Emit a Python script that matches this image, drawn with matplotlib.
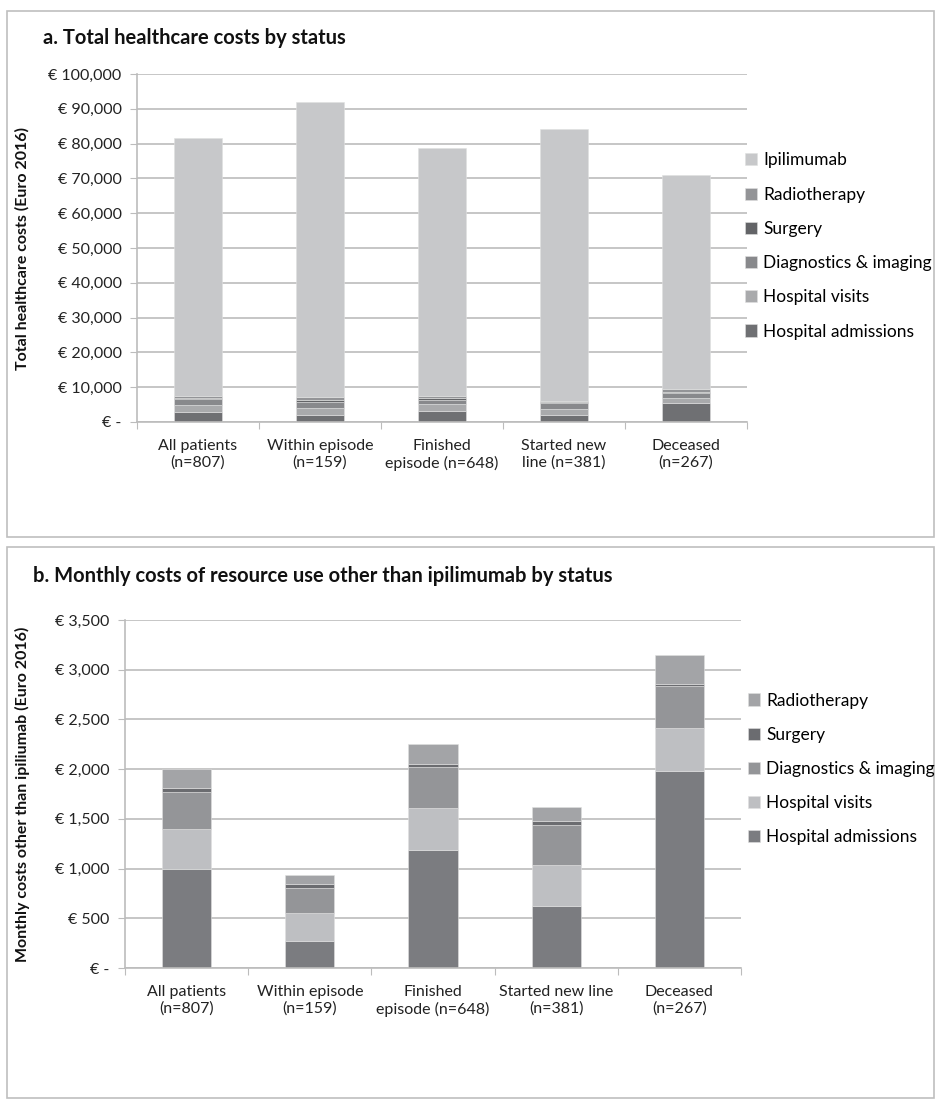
import numpy as np
import matplotlib
matplotlib.use("Agg")
import matplotlib.pyplot as plt
from matplotlib.patches import Rectangle

plt.rcParams['font.family'] = ['Lato', 'DejaVu Sans']

# panel a: total costs per patient (euro 2016)
cats_a = ["All patients\n(n=807)", "Within episode\n(n=159)", "Finished\nepisode (n=648)",
          "Started new\nline (n=381)", "Deceased\n(n=267)"]
adm_a = [3000, 1960, 3230, 2150, 5330]
visits_a = [1950, 2060, 1960, 1680, 1680]
diag_a = [1600, 1870, 1180, 1590, 1310]
surg_a = [280, 470, 390, 280, 280]
radio_a = [750, 930, 780, 380, 840]
ipi_a = [74100, 84700, 71260, 78220, 61560]

# panel b: monthly costs other than ipilimumab
cats_b = ["All patients\n(n=807)", "Within episode\n(n=159)", "Finished\nepisode (n=648)",
          "Started new line\n(n=381)", "Deceased\n(n=267)"]
adm_b = [1000, 268, 1184, 621, 1978]
visits_b = [403, 282, 426, 419, 436]
diag_b = [369, 252, 410, 396, 419]
surg_b = [40, 44, 30, 40, 27]
radio_b = [185, 90, 205, 144, 290]

yticks_a = list(range(0, 100001, 10000))
yticks_b = list(range(0, 3501, 500))

W, H = 936, 1100
fig = plt.figure(figsize=(W / 100, H / 100), dpi=100)

# outer frames like the excel chart boxes
for (x0, y0, x1, y1) in [(7, 11, 934, 537), (7, 547, 934, 1098)]:
    fig.patches.append(Rectangle((x0 / W, 1 - y1 / H), (x1 - x0) / W, (y1 - y0) / H,
                                 transform=fig.transFigure, fill=False,
                                 edgecolor='#bfbfbf', linewidth=1.2))


def euro(v):
    if v == 0:
        return "€ -"
    return "€ {:,}".format(v)


def style_axes(ax, n, yticks):
    ax.set_xlim(-0.5, n - 0.5)
    ax.set_ylim(0, yticks[-1])
    ax.set_yticks(yticks)
    ax.set_yticklabels([euro(v) for v in yticks], fontsize=11.5, color='#222222')
    ax.yaxis.grid(True, color='#bcbcbc', linewidth=1.2)
    ax.set_axisbelow(True)
    for s in ['top', 'right']:
        ax.spines[s].set_visible(False)
    ax.spines['left'].set_color('#bcbcbc')
    ax.spines['bottom'].set_color('#bcbcbc')
    ax.spines['left'].set_linewidth(1.2)
    ax.spines['bottom'].set_linewidth(1.2)
    ax.tick_params(axis='y', length=5, color='#bcbcbc', pad=6)
    # category ticks sit between the bars
    ax.set_xticks(np.arange(-0.5, n, 1.0))
    ax.set_xticklabels([])
    ax.set_xticks(np.arange(n), minor=True)
    ax.tick_params(axis='x', which='major', length=5, color='#bcbcbc')
    ax.tick_params(axis='x', which='minor', length=0, pad=12)


def stack(ax, series, colors, labels, cats):
    x = np.arange(len(cats))
    bottom = np.zeros(len(cats))
    handles = []
    for vals, c, lab in zip(series, colors, labels):
        b = ax.bar(x, vals, width=0.4, bottom=bottom, color=c, label=lab,
                   edgecolor='#e0e0e0', linewidth=0.4)
        handles.append(b)
        bottom = bottom + np.array(vals)
    ax.set_xticklabels(cats, minor=True, fontsize=11.5, color='#222222', linespacing=1.25)
    return handles


leg_kw = dict(loc='center left', frameon=False, fontsize=12.5,
              handlelength=0.7, handleheight=0.7, handletextpad=0.35,
              labelspacing=1.05, borderpad=0, borderaxespad=0)

# ---- panel a
ax1 = fig.add_axes([137 / W, 1 - 422 / H, 610 / W, 348 / H])
style_axes(ax1, len(cats_a), yticks_a)
labels_a = ["Hospital admissions", "Hospital visits", "Diagnostics & imaging",
            "Surgery", "Radiotherapy", "Ipilimumab"]
colors_a = ['#6f7073', '#a9aaac', '#88898c', '#636467', '#939497', '#c7c8ca']
h1 = stack(ax1, [adm_a, visits_a, diag_a, surg_a, radio_a, ipi_a], colors_a, labels_a, cats_a)
fig.legend(h1[::-1], labels_a[::-1], bbox_to_anchor=(745 / W, 1 - 246 / H), **leg_kw)
fig.text(43 / W, 1 - 38 / H, "a. Total healthcare costs by status",
         fontsize=14.5, fontweight='bold', va='center', ha='left', color='#111111')
fig.text(22 / W, 1 - 248 / H, "Total healthcare costs (Euro 2016)", rotation=90,
         fontsize=11.5, fontweight='bold', va='center', ha='center', color='#111111')

# ---- panel b
ax2 = fig.add_axes([125 / W, 1 - 968 / H, 616 / W, 348 / H])
style_axes(ax2, len(cats_b), yticks_b)
labels_b = ["Hospital admissions", "Hospital visits", "Diagnostics & imaging",
            "Surgery", "Radiotherapy"]
colors_b = ['#7b7c80', '#bebfc2', '#949598', '#6b6c70', '#a3a4a7']
h2 = stack(ax2, [adm_b, visits_b, diag_b, surg_b, radio_b], colors_b, labels_b, cats_b)
fig.legend(h2[::-1], labels_b[::-1], bbox_to_anchor=(748 / W, 1 - 769 / H), **leg_kw)
fig.text(33 / W, 1 - 576 / H, "b. Monthly costs of resource use other than ipilimumab by status",
         fontsize=14.5, fontweight='bold', va='center', ha='left', color='#111111')
fig.text(22 / W, 1 - 794 / H, "Monthly costs other than ipiliumab (Euro 2016)", rotation=90,
         fontsize=11.5, fontweight='bold', va='center', ha='center', color='#111111')

fig.savefig("out.png", dpi=100)
